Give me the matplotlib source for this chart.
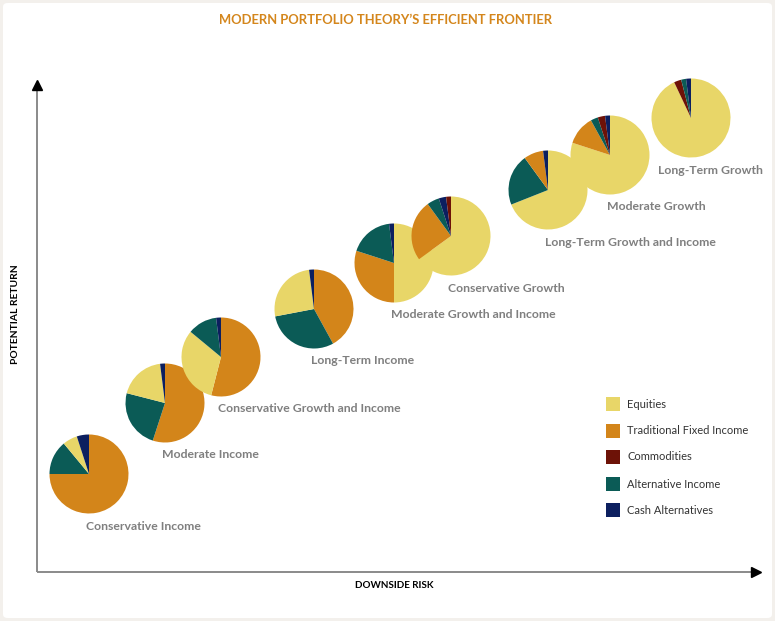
import matplotlib
matplotlib.use("Agg")
import matplotlib.pyplot as plt
from matplotlib.patches import FancyBboxPatch, Rectangle

# portfolio names, in order of increasing risk
portfolios = [
    "Conservative Income", "Moderate Income", "Conservative Growth and Income",
    "Long-Term Income", "Moderate Growth and Income", "Conservative Growth",
    "Long-Term Growth and Income", "Moderate Growth", "Long-Term Growth",
]
# position of each pie on the risk / return plane (chart units)
risk = [52, 128, 184, 277, 357, 414, 511, 573, 654]
ret = [98, 169, 215, 263, 309, 336, 382, 417, 454]

categories = ["Equities", "Traditional Fixed Income", "Commodities",
              "Alternative Income", "Cash Alternatives"]
# allocation (%) per portfolio
equities = [6, 19, 32, 26, 50, 65, 69, 80, 93]
fixed_income = [75, 55, 54, 42, 30, 25, 8, 12, 0]
commodities = [0, 0, 0, 0, 0, 2, 0, 3, 3]
alt_income = [14, 24, 12, 30, 18, 5, 21, 3, 2]
cash = [5, 2, 2, 2, 2, 3, 2, 2, 2]
# wedge order, clockwise from 12 o'clock (index into categories)
wedge_order = [
    [1, 3, 0, 4], [1, 3, 0, 4], [1, 0, 3, 4], [1, 3, 0, 4], [0, 1, 3, 4],
    [0, 1, 3, 4, 2], [0, 3, 1, 4], [0, 1, 3, 2, 4], [0, 2, 3, 4],
]

colors = ["#e8d668", "#d3851a", "#6d1207", "#0b5b56", "#0c1f5f"]
alloc = [equities, fixed_income, commodities, alt_income, cash]

W, H = 775, 621
X0, Y0 = 37, 49   # axis origin in pixels (y measured from bottom)

fig = plt.figure(figsize=(W / 100, H / 100), dpi=100)
fig.patch.set_facecolor("#f3f0ec")
ax = fig.add_axes([0, 0, 1, 1])
ax.patch.set_alpha(0)
ax.add_patch(FancyBboxPatch((3 / W, 3 / H), (W - 6) / W, (H - 6) / H,
                            boxstyle="round,pad=0,rounding_size=0.006",
                            transform=ax.transAxes, facecolor="white",
                            edgecolor="none", zorder=0))

R = 39.5
for i, name in enumerate(portfolios):
    order = [k for k in wedge_order[i] if alloc[k][i] > 0]
    wedges, _ = ax.pie([alloc[k][i] for k in order],
                       colors=[colors[k] for k in order],
                       startangle=90, counterclock=False,
                       center=(risk[i], ret[i]), radius=R,
                       wedgeprops=dict(linewidth=0), frame=False)
    for w in wedges:
        w.set_zorder(2 + i)
    dx = -33 if i == len(portfolios) - 1 else -3
    ax.text(risk[i] + dx, ret[i] - 52, name, ha="left", va="center",
            fontsize=8.8, fontweight="bold", color="#7f7f7f", family="Lato",
            zorder=20)

# axes with arrows
ax.plot([0, 0], [0, 484], color="#8a8a8a", lw=1.4, zorder=1, solid_capstyle="butt")
ax.plot([0, 716], [0, 0], color="#8a8a8a", lw=1.4, zorder=1, solid_capstyle="butt")
ax.plot([0], [487], marker="^", color="black", markersize=7, zorder=1)
ax.plot([719], [0], marker=">", color="black", markersize=7, zorder=1)

ax.text(-21, 258, "POTENTIAL RETURN", rotation=90, ha="center", va="center",
        fontsize=7.4, fontweight="bold", color="black", family="Lato")
ax.text(357, -14, "DOWNSIDE RISK", ha="center", va="center",
        fontsize=7.1, fontweight="bold", color="black", family="Lato")

ax.text(349, 552, "MODERN PORTFOLIO THEORY\u2019S EFFICIENT FRONTIER",
        ha="center", va="center", fontsize=9.4, fontweight="bold",
        color="#d4861c", family="Lato")

# legend
leg_y = [168, 141, 115, 88, 62]
for k, cat in enumerate(categories):
    ax.add_patch(Rectangle((569, leg_y[k] - 7), 14, 14, facecolor=colors[k],
                           edgecolor="none", zorder=20))
    ax.text(590, leg_y[k], cat, ha="left", va="center", fontsize=8,
            color="#333333", family="Lato", zorder=20)

ax.set_xlim(-X0, W - X0)
ax.set_ylim(-Y0, H - Y0)
ax.set_aspect("equal")
ax.axis("off")

fig.savefig("out.png", dpi=100, facecolor=fig.get_facecolor())
